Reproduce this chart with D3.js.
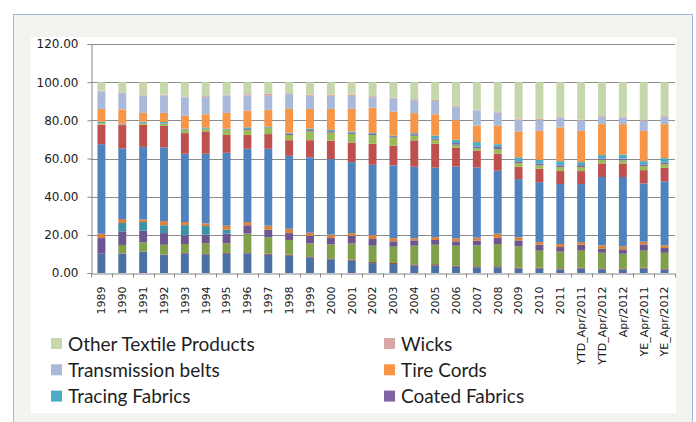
<!DOCTYPE html>
<meta charset="utf-8">
<style>
body { margin: 0; background: #fff; }
svg { display: block; }
.axis text { font: 12px "DejaVu Sans", Verdana, sans-serif; fill: #1a1a1a; }
.xaxis text { font: 11px "DejaVu Sans", Verdana, sans-serif; fill: #1a1a1a; }
.axis path, .axis line { stroke: #868686; }
.grid line { stroke: #8c8c8c; }
.legend text { font: 19px Lato, "Liberation Sans", sans-serif; fill: #1e1e1e; }
</style>
<body>
<svg width="696" height="422"></svg>
<script src="https://cdn.jsdelivr.net/npm/d3@7"></script>
<script>

var categories = ["1989","1990","1991","1992","1993","1994","1995","1996","1997","1998",
  "1999","2000","2001","2002","2003","2004","2005","2006","2007","2008","2009","2010","2011",
  "YTD_Apr/2011","YTD_Apr/2012","Apr/2012","YE_Apr/2011","YE_Apr/2012"];

// series bottom -> top (only the last six are named in the visible legend)
var seriesNames = ["Series 1","Series 2","Series 3","Series 4","Series 5","Series 6",
  "Series 7","Series 8","Series 9","Coated Fabrics","Tracing Fabrics","Tire Cords",
  "Transmission belts","Wicks","Other Textile Products"];

var s1  = [10.1,10.1,11.2,9.4,10.2,9.6,10.1,10.3,9.6,9.1,8.2,7.2,6.5,5.2,4.7,4.0,4.0,3.3,3.0,3.0,2.3,2.3,1.9,2.3,1.9,1.9,2.3,1.9];
var s2  = [0,0.2,0,0.2,0.3,0.4,0.4,0.5,0.5,0.5,0.5,0.4,0.5,0.5,0.5,0.5,0.6,0.5,0.5,0.5,0.5,0.5,0.5,0.5,0.5,0.5,0.5,0.5];
var s3  = [0,4.4,4.9,5.2,4.7,5.5,5.0,9.8,8.6,7.7,6.8,7.4,8.5,8.6,8.6,9.8,10.2,10.5,11.0,11.7,11.2,8.9,8.8,8.9,8.2,7.7,8.9,8.2];
var s4  = [8.2,7.1,6.1,6.1,4.5,4.6,5.1,4.4,4.0,3.6,4.0,3.3,3.9,3.5,2.8,2.8,2.5,2.3,2.4,3.1,3.1,3.1,2.4,3.1,2.1,2.3,3.3,2.5];
var s5  = [0,4.4,4.5,4.1,5.4,4.5,2.1,0,0,0,0,0,0,0,0,0,0,0,0,0,0,0,0,0,0,0,0,0];
var s6  = [2.3,2.1,1.4,2.2,1.6,1.4,2.1,1.7,2.1,2.3,1.6,1.8,1.5,2.1,1.7,1.1,1.5,1.6,1.6,2.3,1.6,1.4,1.6,1.4,1.8,1.6,1.4,1.4];
var s7  = [46.9,37.0,38.0,38.6,35.8,36.5,38.2,38.4,40.3,38.2,39.5,39.6,37.2,36.8,38.1,37.5,36.4,37.6,36.8,33.0,30.5,31.4,31.4,30.4,35.8,36.3,30.5,33.5];
var s8  = [10.2,12.2,11.6,11.3,10.8,11.7,9.4,7.2,7.7,8.2,9.0,9.6,10.3,11.0,10.4,13.8,12.5,9.8,8.7,8.9,6.5,7.0,6.8,6.8,7.1,6.9,7.0,7.1];
var s9  = [0.8,0.3,0.8,1.1,1.6,1.2,2.5,2.7,3.1,2.7,4.6,4.2,4.5,4.6,4.2,2.4,2.1,1.6,1.4,2.4,1.9,1.8,2.1,2.1,1.8,1.8,2.1,2.0];
var coated  = [0,0.2,0.2,0.2,0.2,0.3,0.2,0.5,0.2,0.7,0.7,0.8,0.7,0.6,0.7,0.8,0.7,0.9,0.9,1.1,0.9,1.0,0.9,1.0,0.8,0.9,0.9,0.8];
var tracing = [0.7,0.2,0.6,0.7,0.5,0.6,0.5,0.8,0.5,0.5,0.7,0.7,0.6,0.5,0.3,0.6,1.5,1.7,2.3,1.5,2.1,1.9,2.2,1.6,1.8,2.1,1.7,2.3];
var tire    = [6.8,7.5,4.6,4.8,6.8,6.9,8.3,8.7,8.9,12.5,10.4,11.0,11.8,13.2,12.6,10.5,11.2,10.3,8.7,9.8,13.6,15.2,17.7,16.4,16.2,16.0,15.9,17.8];
var belts   = [9.1,8.6,9.0,9.1,9.7,8.9,9.1,8.0,7.3,7.7,6.8,6.8,6.8,5.5,6.7,6.8,6.9,6.8,7.9,6.8,6.1,5.6,5.2,5.3,3.7,3.5,5.3,3.7];
var wicks   = [0.4,0.3,0.4,0.4,0.4,0.6,0.4,0.7,1.1,0.5,0.6,0.6,0.6,0.6,0.5,0.5,0.6,0.5,0.5,0.5,0.5,0.7,0.5,0.5,0.5,0.5,0.7,0.5];
var other   = [4.5,5.4,6.7,6.6,7.5,7.3,6.6,6.3,6.1,5.8,6.6,6.6,6.6,7.3,8.2,8.9,9.3,12.6,14.3,15.4,19.2,19.2,18.0,19.7,17.8,18.0,19.5,17.8];

var seriesValues = [s1,s2,s3,s4,s5,s6,s7,s8,s9,coated,tracing,tire,belts,wicks,other];

var yTicks = [0,20,40,60,80,100,120];

// legend as laid out in the chart (top series first, two columns)
var legendItems = ["Other Textile Products","Wicks","Transmission belts","Tire Cords","Tracing Fabrics","Coated Fabrics"];

var colors = ["#4a70a4","#8e3a38","#81a04a","#6b5690","#3d92a8","#d98240",
  "#5082be","#c0504d","#9bbb59","#8064a2","#4bacc6","#f79646","#a9b9da","#d9a7a6","#c6d8ab"];

var svg = d3.select("svg");

// frame + white chart area
svg.append("rect")
    .attr("x", 13.5).attr("y", 14.5)
    .attr("width", 679).attr("height", 430)
    .attr("fill", "#f3f3ef")
    .attr("stroke", "#9db6d9");
svg.append("rect")
    .attr("x", 31).attr("y", 37)
    .attr("width", 645).attr("height", 376)
    .attr("fill", "#fff");

var x = d3.scaleBand()
    .domain(categories)
    .range([91, 675])
    .paddingInner(0.62)
    .paddingOuter(0.31);

var y = d3.scaleLinear()
    .domain([0, 120])
    .range([273, 44]);

var color = d3.scaleOrdinal().domain(seriesNames).range(colors);

var table = categories.map(function(c, i) {
  var row = {cat: c};
  seriesNames.forEach(function(n, j) { row[n] = seriesValues[j][i]; });
  return row;
});

var stack = d3.stack().keys(seriesNames)(table);

// gridlines
svg.append("g")
    .attr("class", "grid")
  .selectAll("line")
  .data(yTicks.slice(1))
  .enter().append("line")
    .attr("x1", 91).attr("x2", 675)
    .attr("y1", function(d) { return Math.round(y(d)) + 0.5; })
    .attr("y2", function(d) { return Math.round(y(d)) + 0.5; });

svg.append("g")
  .selectAll("g")
  .data(stack)
  .enter().append("g")
    .attr("fill", function(d) { return color(d.key); })
  .selectAll("rect")
  .data(function(d) { return d; })
  .enter().append("rect")
    .attr("x", function(d) { return x(d.data.cat); })
    .attr("y", function(d) { return y(d[1]); })
    .attr("height", function(d) { return y(d[0]) - y(d[1]); })
    .attr("width", x.bandwidth());

// y axis
var yAxis = svg.append("g")
    .attr("class", "axis")
    .attr("transform", "translate(91.5,0)")
    .call(d3.axisLeft(y).tickValues(yTicks).tickFormat(d3.format(".2f")).tickSize(4).tickPadding(9));

// x axis: ticks at band boundaries
var xAxis = svg.append("g")
    .attr("class", "axis xaxis")
    .attr("transform", "translate(0,273.5)")
    .call(d3.axisBottom(x).tickSize(0).tickSizeOuter(0));
xAxis.selectAll(".tick text")
    .attr("transform", "rotate(-90)")
    .attr("text-anchor", "end")
    .attr("x", -13)
    .attr("y", 0)
    .attr("dy", "0.35em");
xAxis.selectAll(".sep")
    .data(categories)
  .enter().append("line")
    .attr("class", "sep")
    .attr("x1", function(d) { return Math.round(x(d) - x.step() * 0.31) + 0.5; })
    .attr("x2", function(d) { return Math.round(x(d) - x.step() * 0.31) + 0.5; })
    .attr("y1", 0).attr("y2", 4);
xAxis.append("line")
    .attr("x1", 675.5).attr("x2", 675.5)
    .attr("y1", 0).attr("y2", 4);

// legend
var legend = svg.append("g")
    .attr("class", "legend")
  .selectAll("g")
  .data(legendItems)
  .enter().append("g")
    .attr("transform", function(d, i) {
      return "translate(" + (i % 2 ? 384 : 51) + "," + (344 + Math.floor(i / 2) * 26.3) + ")";
    });

legend.append("rect")
    .attr("x", 0).attr("y", -6)
    .attr("width", 11).attr("height", 11)
    .attr("fill", function(d) { return color(d); });

legend.append("text")
    .attr("x", 17)
    .attr("y", 0)
    .attr("dy", "0.35em")
    .text(function(d) { return d; });

</script>
</body>
